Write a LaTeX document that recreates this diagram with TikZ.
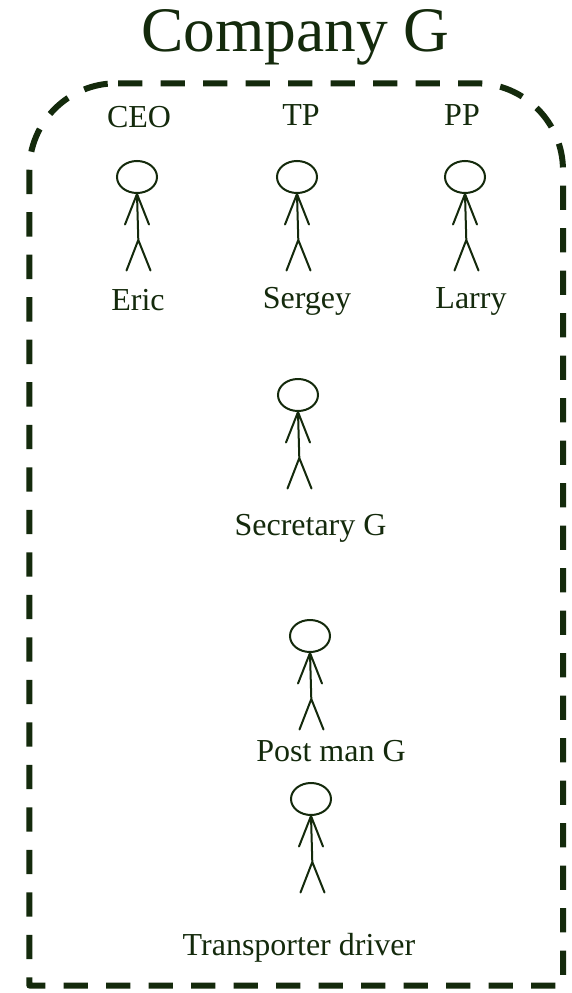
\documentclass[tikz,border=0pt]{standalone}
\usepackage{fontspec}
\setmainfont{Liberation Serif}
\definecolor{ink}{HTML}{142A0C}
\tikzset{
  x=1pt,y=-1pt,
  lbl/.style={text=ink,font=\fontsize{32}{36}\selectfont,inner sep=0pt,anchor=base},
  ttl/.style={text=ink,font=\fontsize{63.4}{70}\selectfont,inner sep=0pt,anchor=base},
  boxline/.style={draw=ink,line width=6pt,line join=round,dash pattern=on 24.3pt off 18.2pt},
  stick/.pic={
    \draw[ink,line width=2pt] (0,0) ellipse[x radius=20,y radius=16];
    \draw[ink,line width=2pt,line cap=round,line join=round]
      (0,17)--(1.3,63) (-12,47.5)--(0,17)--(12,47.5) (-10.5,93.5)--(1.3,63)--(13.5,93.5);
  }
}
\begin{document}
\begin{tikzpicture}
\useasboundingbox (0,0) rectangle (572,993);
\fill[white] (0,0) rectangle (572,993);
\node[ttl] (title) at (295.5,51) {Company G};
\draw[boxline] (118,83.3) -- (476,83.3)
  .. controls (524,83.3) and (563,122.3) .. (563,170.3)
  -- (563,985.5) -- (29.3,985.5) -- (29.3,170.3)
  .. controls (29.3,122.3) and (68.3,83.3) .. (116.3,83.3) -- (118,83.3);
\pic at (137,177) {stick};
\pic at (297,177) {stick};
\pic at (465,177) {stick};
\pic at (298,395) {stick};
\pic at (310,636) {stick};
\pic at (311,799) {stick};
\node[lbl] (ceo) at (139,127) {CEO};
\node[lbl] (tp) at (301,125) {TP};
\node[lbl] (pp) at (462,125) {PP};
\node[lbl] (eric) at (138,310) {Eric};
\node[lbl] (sergey) at (307,308.5) {Sergey};
\node[lbl] (larry) at (471,308.5) {Larry};
\node[lbl] (sec) at (310.5,535) {Secretary G};
\node[lbl] (post) at (331,761) {Post man G};
\node[lbl] (trans) at (299,955) {Transporter driver};
\end{tikzpicture}
\end{document}
